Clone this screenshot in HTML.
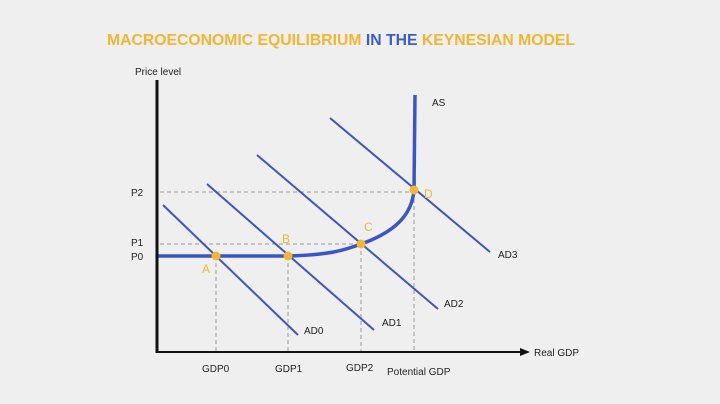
<!DOCTYPE html>
<html><head><style>
body{margin:0;width:720px;height:404px;background:#efefef;overflow:hidden}
svg{display:block}
text{font-family:"Liberation Sans",Arial,sans-serif}
</style></head><body>
<svg width="720" height="404" viewBox="0 0 720 404">
<rect width="720" height="404" fill="#efefef"/>
<text x="107" y="45" font-size="15.5" font-weight="bold" fill="#f2b632" textLength="468" lengthAdjust="spacingAndGlyphs">MACROECONOMIC EQUILIBRIUM <tspan fill="#3d5ccc">IN THE</tspan> KEYNESIAN MODEL</text>
<text x="135" y="75" font-size="10" fill="#222">Price level</text>
<g stroke="#999" stroke-width="1" stroke-dasharray="4,3" fill="none">
<line x1="160" y1="192" x2="414" y2="192"/>
<line x1="160" y1="244" x2="361" y2="244"/>
<line x1="216" y1="256" x2="216" y2="352"/>
<line x1="288" y1="256" x2="288" y2="352"/>
<line x1="361" y1="244" x2="361" y2="352"/>
<line x1="414" y1="192" x2="414" y2="352"/>
</g>
<g stroke="#3a55c8" stroke-width="2">
<line x1="163" y1="205" x2="298" y2="335"/>
<line x1="207" y1="184" x2="374" y2="330"/>
<line x1="257" y1="155" x2="438" y2="309"/>
<line x1="330" y1="118" x2="490" y2="252"/>
</g>
<path d="M157 256 L288 256 C330 255 345 250 361 244 C395 232 412 215 414 190 L415 95" stroke="#3a55c8" stroke-width="3.5" fill="none"/>
<line x1="157" y1="80" x2="157" y2="353" stroke="#111" stroke-width="3"/>
<line x1="156" y1="352" x2="522" y2="352" stroke="#111" stroke-width="2"/>
<polygon points="530,352 520,348 520,356" fill="#111"/>
<g fill="#f5b731">
<circle cx="216" cy="256" r="4.5"/><circle cx="288" cy="256" r="4.5"/>
<circle cx="361" cy="244" r="4.5"/><circle cx="414" cy="190" r="4.5"/>
</g>
<g font-size="12" fill="#f2b632">
<text x="202" y="273">A</text><text x="282" y="243">B</text>
<text x="364" y="231">C</text><text x="424" y="198">D</text>
</g>
<g font-size="10" fill="#222">
<text x="131" y="196">P2</text><text x="131" y="246">P1</text><text x="131" y="260">P0</text>
<text x="432" y="106">AS</text><text x="498" y="258">AD3</text><text x="444" y="307">AD2</text>
<text x="382" y="326">AD1</text><text x="304" y="334">AD0</text>
<text x="534" y="356">Real GDP</text>
<text x="202" y="372">GDP0</text><text x="275" y="372">GDP1</text>
<text x="346" y="371">GDP2</text><text x="387" y="375">Potential GDP</text>
</g>
</svg>
</body></html>
